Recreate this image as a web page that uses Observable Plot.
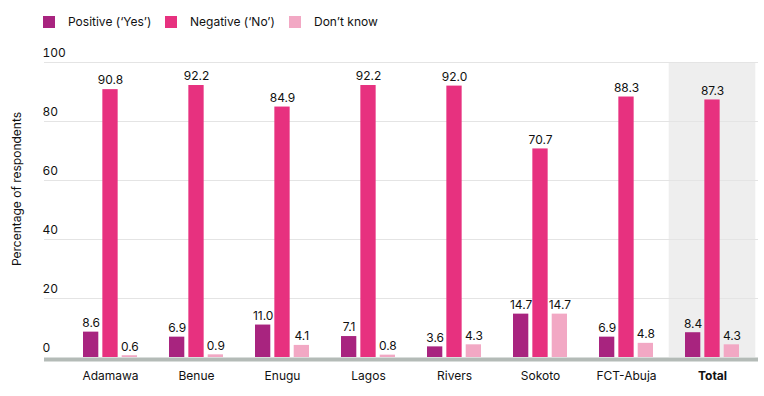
<!DOCTYPE html>
<html>
<head>
<meta charset="utf-8">
<script src="https://cdn.jsdelivr.net/npm/d3@7"></script>
<script src="https://cdn.jsdelivr.net/npm/@observablehq/plot@0.6"></script>
<style>
  body { margin: 0; background: #fff; font-family: Inter, "Noto Sans", sans-serif; }
  #legend { height: 40px; position: relative; font-size: 12px; color: #111; }
  .item { position: absolute; top: 14px; display: flex; align-items: center; }
  .sw { width: 12px; height: 12px; margin-right: 13px; }
</style>
</head>
<body>
<div id="legend"></div>
<div id="chart"></div>
<script>
const categories = ["Adamawa", "Benue", "Enugu", "Lagos", "Rivers", "Sokoto", "FCT-Abuja", "Total"];
const seriesNames = ["Positive (‘Yes’)", "Negative (‘No’)", "Don’t know"];
const positive = [8.6, 6.9, 11.0, 7.1, 3.6, 14.7, 6.9, 8.4];
const negative = [90.8, 92.2, 84.9, 92.2, 92.0, 70.7, 88.3, 87.3];
const dontKnow = [0.6, 0.9, 4.1, 0.8, 4.3, 14.7, 4.8, 4.3];
const yTicks = [0, 20, 40, 60, 80, 100];
const colors = ["#a8247f", "#e7317f", "#f2a8c4"];

const seriesValues = [positive, negative, dontKnow];
const data = [];
seriesValues.forEach((vals, s) => vals.forEach((v, i) => data.push({cat: categories[i], s, v})));

// legend
const legendX = [43, 165, 289];
const legend = document.getElementById("legend");
seriesNames.forEach((n, i) => {
  const d = document.createElement("div");
  d.className = "item";
  d.style.left = legendX[i] + "px";
  d.innerHTML = `<div class="sw" style="background:${colors[i]}"></div><span>${n}</span>`;
  legend.appendChild(d);
});

const bw = 54, barW = 15.3, off = 19.35;
const barMarks = [0, 1, 2].map(s => Plot.barY(data.filter(d => d.s === s), {
  x: "cat", y: "v", fill: colors[s],
  insetLeft: s * off, insetRight: bw - barW - s * off
}));
const textMarks = [0, 1, 2].map(s => Plot.text(data.filter(d => d.s === s), {
  x: "cat", y: "v", text: d => d.v.toFixed(1),
  dx: (s - 1) * off, dy: -9, fontSize: 12, fill: "#111"
}));

const plot = Plot.plot({
  width: 764,
  height: 356,
  marginLeft: 44,
  marginRight: 6,
  marginTop: 22,
  marginBottom: 39,
  style: {fontFamily: "Inter, 'Noto Sans', sans-serif", fontSize: "12px", color: "#111"},
  x: {domain: categories, range: [64.5, 757.5], paddingInner: 0.3766, paddingOuter: 0.1883, label: null},
  y: {domain: [0, 100], label: null},
  marks: [
    Plot.barY(["Total"], {x: d => d, y1: 0, y2: 100, fill: "#eeeeee", insetLeft: -16.3, insetRight: -16.3}),
    Plot.ruleY(yTicks.filter(t => t > 0), {stroke: "#e4e4e4", strokeWidth: 1.2}),
    Plot.axisY(yTicks, {tickSize: 0, tickPadding: 0, textAnchor: "start", dx: -2, dy: -9, fontSize: 12, label: null}),
    Plot.text(["Percentage of respondents"], {frameAnchor: "left", textAnchor: "middle", rotate: -90, dx: -27, dy: -21, fontSize: 12, fill: "#111"}),
    ...barMarks,
    Plot.ruleY([0], {stroke: "#b4bbb7", strokeWidth: 4, dy: 2}),
    ...textMarks,
    Plot.axisX(categories.filter(c => c !== "Total"), {tickSize: 0, tickPadding: 14, fontSize: 12, label: null}),
    Plot.axisX(["Total"], {tickSize: 0, tickPadding: 14, fontSize: 12, fontWeight: "bold", label: null})
  ]
});
document.getElementById("chart").appendChild(plot);
</script>
</body>
</html>
